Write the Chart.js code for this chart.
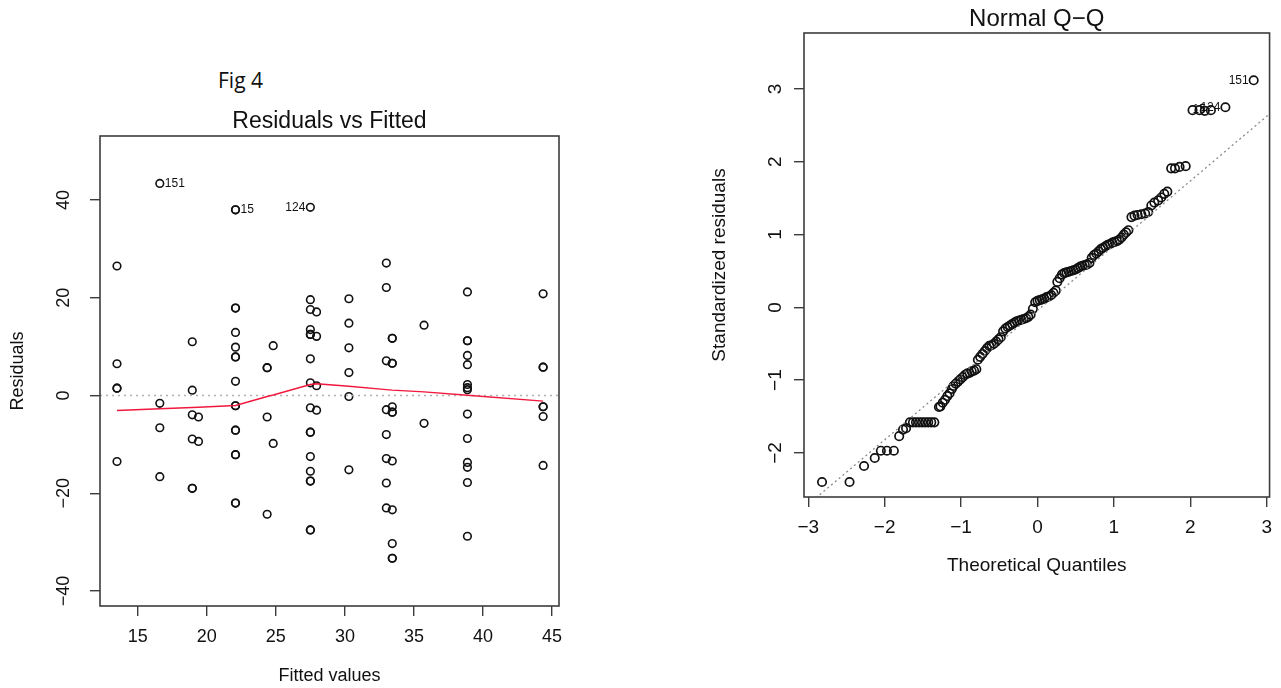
<!DOCTYPE html>
<html><head><meta charset="utf-8">
<script src="https://cdn.jsdelivr.net/npm/chart.js@4.4.1/dist/chart.umd.min.js"></script>
<style>
html,body{margin:0;padding:0;background:#fff;width:1281px;height:688px;overflow:hidden;}
#fig{position:absolute;left:218px;top:66px;font:21px "Open Sans",sans-serif;color:#111;line-height:28px;}
canvas{position:absolute;top:0;}
#c1{left:0}
#c2{left:640px}
</style></head><body>
<div id="fig">Fig 4</div>
<canvas id="c1" width="640" height="688"></canvas>
<canvas id="c2" width="641" height="688"></canvas>
<script>
// ---------- Residuals vs Fitted ----------
const fittedTicks = [15, 20, 25, 30, 35, 40, 45];
const residualTicks = [-40, -20, 0, 20, 40];
const fitted = [
  13.5,13.5,13.5,13.5,13.5,
  16.6,16.6,16.6,16.6,
  18.95,18.95,18.95,18.95,18.95,18.95,
  19.4,19.4,
  22.08,22.08,22.08,22.08,22.08,22.08,22.08,22.08,22.08,22.08,22.08,22.08,22.08,22.08,22.08,22.08,22.08,
  24.37,24.37,24.37,24.37,
  24.81,24.81,
  27.5,27.5,27.5,27.5,27.5,27.5,27.5,27.5,27.5,27.5,27.5,27.5,27.5,27.5,27.5,27.5,27.5,
  27.95,27.95,27.95,27.95,
  30.29,30.29,30.29,30.29,30.29,30.29,
  33.0,33.0,33.0,33.0,33.0,33.0,33.0,33.0,
  33.43,33.43,33.43,33.43,33.43,33.43,33.43,33.43,33.43,33.43,33.43,33.43,
  35.73,35.73,
  38.87,38.87,38.87,38.87,38.87,38.87,38.87,38.87,38.87,38.87,38.87,38.87,38.87,38.87,
  44.35,44.35,44.35,44.35,44.35,44.35,44.35
];
const residuals = [
  26.5,6.5,1.5,1.5,-13.5,
  43.4,-1.6,-6.6,-16.6,
  11.0,1.1,-3.95,-8.9,-19.0,-19.0,
  -4.4,-9.4,
  38.0,38.0,17.9,17.9,12.9,9.9,7.9,7.9,2.9,-2.1,-2.1,-7.1,-7.1,-12.1,-12.1,-22.0,-22.0,
  5.7,5.7,-4.4,-24.3,
  10.2,-9.8,
  38.5,19.6,17.6,13.5,12.5,12.5,7.5,2.6,-2.5,-7.5,-7.5,-12.5,-15.5,-17.5,-17.5,-27.5,-27.5,
  17.1,12.1,2.0,-3.0,
  19.8,14.8,9.75,4.7,-0.2,-15.2,
  27.1,22.1,7.1,-2.9,-8.0,-12.9,-17.9,-23.0,
  11.7,11.7,6.6,6.6,-2.3,-3.4,-3.4,-13.4,-23.4,-30.3,-33.3,-33.3,
  14.4,-5.7,
  21.2,11.2,11.2,8.2,6.3,2.25,1.6,1.2,-3.8,-8.8,-13.7,-14.7,-17.8,-28.8,
  20.8,5.8,5.8,-2.3,-2.3,-4.3,-14.3
];
const smoothFitted = [13.5, 16.6, 18.95, 19.4, 22.08, 24.37, 24.81, 27.5, 27.95, 30.29, 33.0, 33.43, 35.73, 38.87, 44.35];
const smoothResid  = [-3.07, -2.7, -2.45, -2.4, -2.05, -0.2, 0.1, 2.25, 2.4, 1.9, 1.2, 1.1, 0.75, 0.06, -1.15];
const zeroLineX = [12.27, 45.5];
const zeroLineY = [0, 0];
const rvfIds = ['151', '15', '124'];
const rvfIdFitted = [16.6, 22.08, 27.5];
const rvfIdResid = [43.4, 38.0, 38.5];
const rvfIdSide = ['right', 'right', 'left'];

// ---------- Normal Q-Q ----------
const qqTicksX = [-3, -2, -1, 0, 1, 2, 3];
const qqTicksY = [-2, -1, 0, 1, 2, 3];
const qqTheoretical = [
  -2.82,-2.46,-2.27,-2.13,-2.05,-1.97,-1.88,-1.81,-1.76,-1.72,
  -1.67,-1.63,-1.59,-1.55,-1.51,-1.47,-1.43,-1.39,-1.35,
  -1.29,-1.27,-1.24,-1.21,-1.18,-1.15,-1.12,-1.10,-1.07,-1.04,-1.01,-0.98,-0.95,-0.92,-0.89,-0.86,-0.83,-0.80,
  -0.78,-0.75,-0.72,-0.69,-0.66,-0.63,-0.60,-0.57,-0.54,-0.51,-0.48,-0.45,-0.42,-0.39,-0.36,-0.33,-0.30,-0.27,-0.24,-0.21,-0.18,-0.15,-0.12,-0.09,-0.06,-0.03,
  0.00,0.03,0.06,0.09,0.12,0.15,0.18,0.21,0.24,
  0.26,
  0.29,0.32,0.35,0.38,0.41,0.44,0.47,0.50,0.53,0.56,0.59,0.62,0.65,0.68,0.71,0.74,0.77,0.80,0.83,0.86,0.89,0.92,0.95,0.98,1.01,1.04,1.07,1.10,1.13,1.16,1.19,
  1.23,1.27,1.31,1.36,1.41,1.45,1.49,1.53,1.58,1.62,1.66,1.70,
  1.75,1.80,1.86,1.94,2.03,2.12,2.19,2.27,2.46,2.83
];
const qqStandardized = [
  -2.40,-2.40,-2.18,-2.07,-1.97,-1.97,-1.97,-1.77,-1.68,-1.66,
  -1.58,-1.58,-1.58,-1.58,-1.58,-1.58,-1.58,-1.58,-1.58,
  -1.37,-1.36,-1.31,-1.27,-1.22,-1.18,-1.12,-1.08,-1.05,-1.02,-0.99,-0.96,-0.93,-0.91,-0.90,-0.88,-0.87,-0.85,
  -0.72,-0.68,-0.64,-0.60,-0.56,-0.53,-0.52,-0.50,-0.47,-0.44,-0.41,-0.33,-0.29,-0.27,-0.25,-0.23,-0.21,-0.19,-0.18,-0.17,-0.16,-0.15,-0.13,-0.10,-0.02,0.07,
  0.09,0.10,0.11,0.12,0.14,0.15,0.17,0.20,0.23,
  0.35,
  0.40,0.45,0.47,0.48,0.49,0.50,0.51,0.52,0.54,0.56,0.57,0.58,0.59,0.61,0.68,0.72,0.74,0.77,0.80,0.82,0.84,0.86,0.87,0.89,0.90,0.91,0.93,0.96,1.00,1.03,1.06,
  1.24,1.26,1.27,1.28,1.29,1.31,1.40,1.44,1.47,1.51,1.56,1.59,
  1.91,1.91,1.93,1.94,2.71,2.71,2.70,2.71,2.75,3.12
];
const qqLineX = [-3.2, 3.2];
const qqLineY = [-2.887, 2.803];
const qqIds = ['151', '124', '15'];
const qqIdX = [2.83, 2.46, 2.27];
const qqIdY = [3.12, 2.75, 2.71];

// ---------- helpers ----------
const FONT = '"Liberation Sans", Arial, sans-serif';
const INK = '#111111';
const fmt = v => (v < 0 ? '\u2212' + Math.abs(v) : String(v));
const toPts = (xs, ys) => xs.map((x, i) => ({x, y: ys[i]}));

function rPlugin(cfg) {
  return {
    id: 'rStyle',
    afterDatasetsDraw(chart) {
      const {ctx, chartArea: a} = chart;
      const xs = chart.scales.x, ys = chart.scales.y;
      ctx.save();
      ctx.strokeStyle = '#3c3c3c';
      ctx.lineWidth = 1.6;
      ctx.strokeRect(a.left, a.top, a.right - a.left, a.bottom - a.top);
      ctx.fillStyle = INK;
      ctx.textAlign = 'center';
      ctx.textBaseline = 'middle';
      ctx.font = cfg.tickSize + 'px ' + FONT;
      ys.ticks.forEach(t => {
        const py = ys.getPixelForValue(t.value);
        ctx.save();
        ctx.translate(cfg.yTickX, py);
        ctx.rotate(-Math.PI / 2);
        ctx.fillText(fmt(t.value), 0, 0);
        ctx.restore();
      });
      ctx.font = cfg.titleSize + 'px ' + FONT;
      ctx.fillText(cfg.title, (a.left + a.right) / 2, cfg.titleY);
      ctx.font = cfg.labSize + 'px ' + FONT;
      ctx.fillText(cfg.xLab, (a.left + a.right) / 2, cfg.xLabY);
      ctx.save();
      ctx.translate(cfg.yLabX, (a.top + a.bottom) / 2);
      ctx.rotate(-Math.PI / 2);
      ctx.fillText(cfg.yLab, 0, 0);
      ctx.restore();
      ctx.font = cfg.idSize + 'px ' + FONT;
      cfg.ids.forEach((id, i) => {
        const px = xs.getPixelForValue(cfg.idX[i]);
        const py = ys.getPixelForValue(cfg.idY[i]);
        const right = cfg.idSide[i] === 'right';
        ctx.textAlign = right ? 'left' : 'right';
        ctx.fillText(id, px + (right ? 5 : -5), py);
      });
      ctx.restore();
    }
  };
}

function axisX(min, max, tickVals, size, height, pad) {
  return {
    type: 'linear', min, max,
    afterBuildTicks: sc => { sc.ticks = tickVals.map(v => ({value: v})); },
    afterFit: sc => { sc.height = height; },
    grid: {display: true, drawOnChartArea: false, drawTicks: true, tickLength: 10, color: '#3c3c3c', lineWidth: 1.4},
    border: {display: false},
    ticks: {autoSkip: false, maxRotation: 0, padding: pad, color: INK, font: {family: FONT, size}, callback: v => fmt(v)}
  };
}
function axisY(min, max, tickVals, width) {
  return {
    type: 'linear', min, max,
    afterBuildTicks: sc => { sc.ticks = tickVals.map(v => ({value: v})); },
    afterFit: sc => { sc.width = width; },
    grid: {display: true, drawOnChartArea: false, drawTicks: true, tickLength: 10, color: '#3c3c3c', lineWidth: 1.4},
    border: {display: false},
    ticks: {display: false}
  };
}
const basePlugins = {legend: {display: false}, tooltip: {enabled: false}, title: {display: false}};

// ---------- chart 1 ----------
new Chart(document.getElementById('c1'), {
  type: 'scatter',
  data: {
    datasets: [
      {data: toPts(fitted, residuals), pointStyle: 'circle', pointRadius: 3.8, borderWidth: 1.6,
       borderColor: INK, backgroundColor: 'rgba(0,0,0,0)', showLine: false, order: 3},
      {data: toPts(zeroLineX, zeroLineY), showLine: true, pointRadius: 0, borderColor: '#b0b0b0',
       borderWidth: 1.3, borderDash: [2, 4], order: 2},
      {data: toPts(smoothFitted, smoothResid), showLine: true, pointRadius: 0, borderColor: '#f0183c',
       borderWidth: 1.4, tension: 0, order: 1}
    ]
  },
  options: {
    responsive: false, animation: false, events: [],
    layout: {padding: {top: 136, right: 81, left: 0, bottom: 0}},
    scales: {
      x: axisX(12.27, 45.5, fittedTicks, 18, 82, 10),
      y: axisY(-43.07, 53.1, residualTicks, 100)
    },
    plugins: basePlugins
  },
  plugins: [rPlugin({
    title: 'Residuals vs Fitted', titleY: 122, titleSize: 23,
    xLab: 'Fitted values', xLabY: 676, yLab: 'Residuals', yLabX: 18, labSize: 18,
    tickSize: 18, yTickX: 64,
    ids: rvfIds, idX: rvfIdFitted, idY: rvfIdResid, idSide: rvfIdSide, idSize: 12
  })]
});

// ---------- chart 2 ----------
new Chart(document.getElementById('c2'), {
  type: 'scatter',
  data: {
    datasets: [
      {data: toPts(qqTheoretical, qqStandardized), pointStyle: 'circle', pointRadius: 4.2, borderWidth: 1.7,
       borderColor: INK, backgroundColor: 'rgba(0,0,0,0)', showLine: false, order: 2},
      {data: toPts(qqLineX, qqLineY), showLine: true, pointRadius: 0, borderColor: '#8a8a8a',
       borderWidth: 1.3, borderDash: [2, 3], order: 1}
    ]
  },
  options: {
    responsive: false, animation: false, events: [],
    layout: {padding: {top: 33, right: 9, left: 0, bottom: 0}},
    scales: {
      x: axisX(-3.056, 3.038, qqTicksX, 19, 191, 9),
      y: axisY(-2.606, 3.77, qqTicksY, 164)
    },
    plugins: basePlugins
  },
  plugins: [rPlugin({
    title: 'Normal Q\u2212Q', titleY: 19, titleSize: 24,
    xLab: 'Theoretical Quantiles', xLabY: 566, yLab: 'Standardized residuals', yLabX: 80, labSize: 19,
    tickSize: 19, yTickX: 136,
    ids: qqIds, idX: qqIdX, idY: qqIdY, idSide: ['left', 'left', 'left'], idSize: 12
  })]
});
</script>
</body></html>
